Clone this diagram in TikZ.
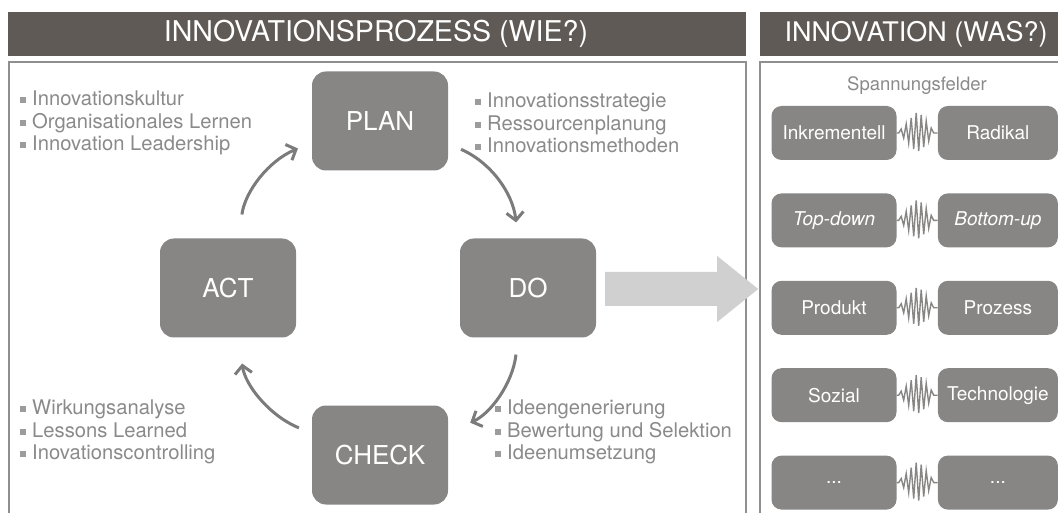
\documentclass[tikz,border=0pt]{standalone}
\usepackage{fontspec}
\setmainfont{TeX Gyre Heros}
\usetikzlibrary{arrows.meta,positioning}
\definecolor{headgray}{HTML}{5F5A56}
\definecolor{boxgray}{HTML}{878685}
\definecolor{textgray}{HTML}{8A8A8A}
\definecolor{bulgray}{HTML}{9C9C9C}
\definecolor{framegray}{HTML}{8F8F8F}
\definecolor{cyclegray}{HTML}{7B7B7B}
\definecolor{bigarrow}{HTML}{D0D0D0}
\tikzset{
	header/.style   = {fill=headgray, draw=none},
	headtext/.style = {text=white, font=\fontsize{27}{32}\selectfont},
	frame/.style    = {draw=framegray, line width=2.5pt},
	phase/.style    = {fill=boxgray, rectangle, rounded corners=14pt, minimum width=136pt, minimum height=99pt, text=white, font=\fontsize{26}{30}\selectfont},
	field/.style    = {fill=boxgray, rectangle, rounded corners=10pt, minimum height=54pt, inner sep=2pt, text=white, font=\fontsize{19}{22}\selectfont},
	fieldL/.style   = {field, minimum width=125pt},
	fieldR/.style   = {field, minimum width=120pt},
	cyc/.style      = {draw=cyclegray, line width=3pt, bend left=30, -{Straight Barb[length=8pt,width=17pt]}},
	spring/.style   = {draw=boxgray, line width=1.4pt, line join=miter},
	list/.style     = {text=textgray, align=left, inner sep=0pt, font=\fontsize{20.2}{22.5}\selectfont},
}
\newcommand{\bul}{{\color{bulgray}\rule[2.5pt]{6pt}{6pt}}\hspace{6pt}}
\newcommand{\spannung}[2]{%
	\draw[spring] (#1.east) -- ++(2,0) -- ++(2.5,4) -- ++(2.5,-9) -- ++(2.5,14) -- ++(2.5,-19)
		-- ++(2.5,25) -- ++(2.5,-31) -- ++(2.5,36) -- ++(2.5,-38) -- ++(2.5,36) -- ++(2.5,-32)
		-- ++(2.5,26) -- ++(2.5,-20) -- ++(2.5,13) -- ++(2.5,-5) -- (#2.west);}
\begin{document}
\begin{tikzpicture}[x=1pt, y=1pt]
		\useasboundingbox (0,0) rectangle (1058,512);

		% Headers and frames
		\fill[header] (8,456) rectangle (746,500);
		\fill[header] (760,456) rectangle (1064,500);
		\node[headtext, font=\fontsize{28.6}{32}\selectfont] (headprozess) at (376,478) {INNOVATIONSPROZESS (WIE?)};
		\node[headtext] (headwas) at (916,478) {INNOVATION (WAS?)};
		\draw[frame] (9,-10) -- (9,450) -- (746,450) -- (746,-10);
		\draw[frame] (760,-10) -- (760,450) -- (1070,450);

		% Draw the PDCA cycle nodes
		\node[phase] (plan)  at (380,391) {PLAN};
		\node[phase] (do)    at (528,224) {DO};
		\node[phase] (act)   at (228,224) {ACT};
		\node[phase] (check) at (380,57)  {CHECK};

		% Connect the cycle
		\draw[cyc, shorten <=14pt, shorten >=16pt] (plan) to (do);
		\draw[cyc, shorten <=17pt, shorten >=24pt] (do) to (check);
		\draw[cyc, shorten <=14pt, shorten >=26pt] (check) to (act);
		\draw[cyc, shorten <=24pt, shorten >=15pt] (act) to (plan);

		% Bullet lists
		\node[list, anchor=west] (listact) at (20,389)
			{\bul Innovationskultur\\ \bul Organisationales Lernen\\ \bul Innovation Leadership};
		\node[list, anchor=west] (listplan) at (475,389)
			{\bul Innovationsstrategie\\ \bul Ressourcenplanung\\ \bul Innovationsmethoden};
		\node[list, anchor=west] (listcheck) at (20,80)
			{\bul Wirkungsanalyse\\ \bul Lessons Learned\\ \bul Inovationscontrolling};
		\node[list, anchor=west] (listdo) at (495,80)
			{\bul Ideengenerierung\\ \bul Bewertung und Selektion\\ \bul Ideenumsetzung};

		% Big arrow towards the innovation side
		\fill[bigarrow] ([shift={(9,16)}]do.east) -- ++(112,0) -- ++(0,16) -- ++(41,-33)
			-- ++(-41,-33) -- ++(0,16) -- ++(-112,0) -- cycle;

		% Spannungsfelder
		\node[text=textgray, font=\fontsize{18.5}{22}\selectfont] (spf) at (917,426) {Spannungsfelder};
		\node[fieldL] (l1) at (834,379) {Inkrementell};
		\node[fieldL, below=33pt of l1] (l2) {\itshape Top-down};
		\node[fieldL, below=33pt of l2] (l3) {Produkt};
		\node[fieldL, below=33pt of l3] (l4) {Sozial};
		\node[fieldL, below=33pt of l4] (l5) {...};
		\node[fieldR, right=41pt of l1] (r1) {Radikal};
		\node[fieldR, right=41pt of l2] (r2) {\itshape Bottom-up};
		\node[fieldR, right=41pt of l3] (r3) {Prozess};
		\node[fieldR, right=41pt of l4] (r4) {Technologie};
		\node[fieldR, right=41pt of l5] (r5) {...};
		\foreach \i in {1,...,5} {\spannung{l\i}{r\i}}
	\end{tikzpicture}
\end{document}
